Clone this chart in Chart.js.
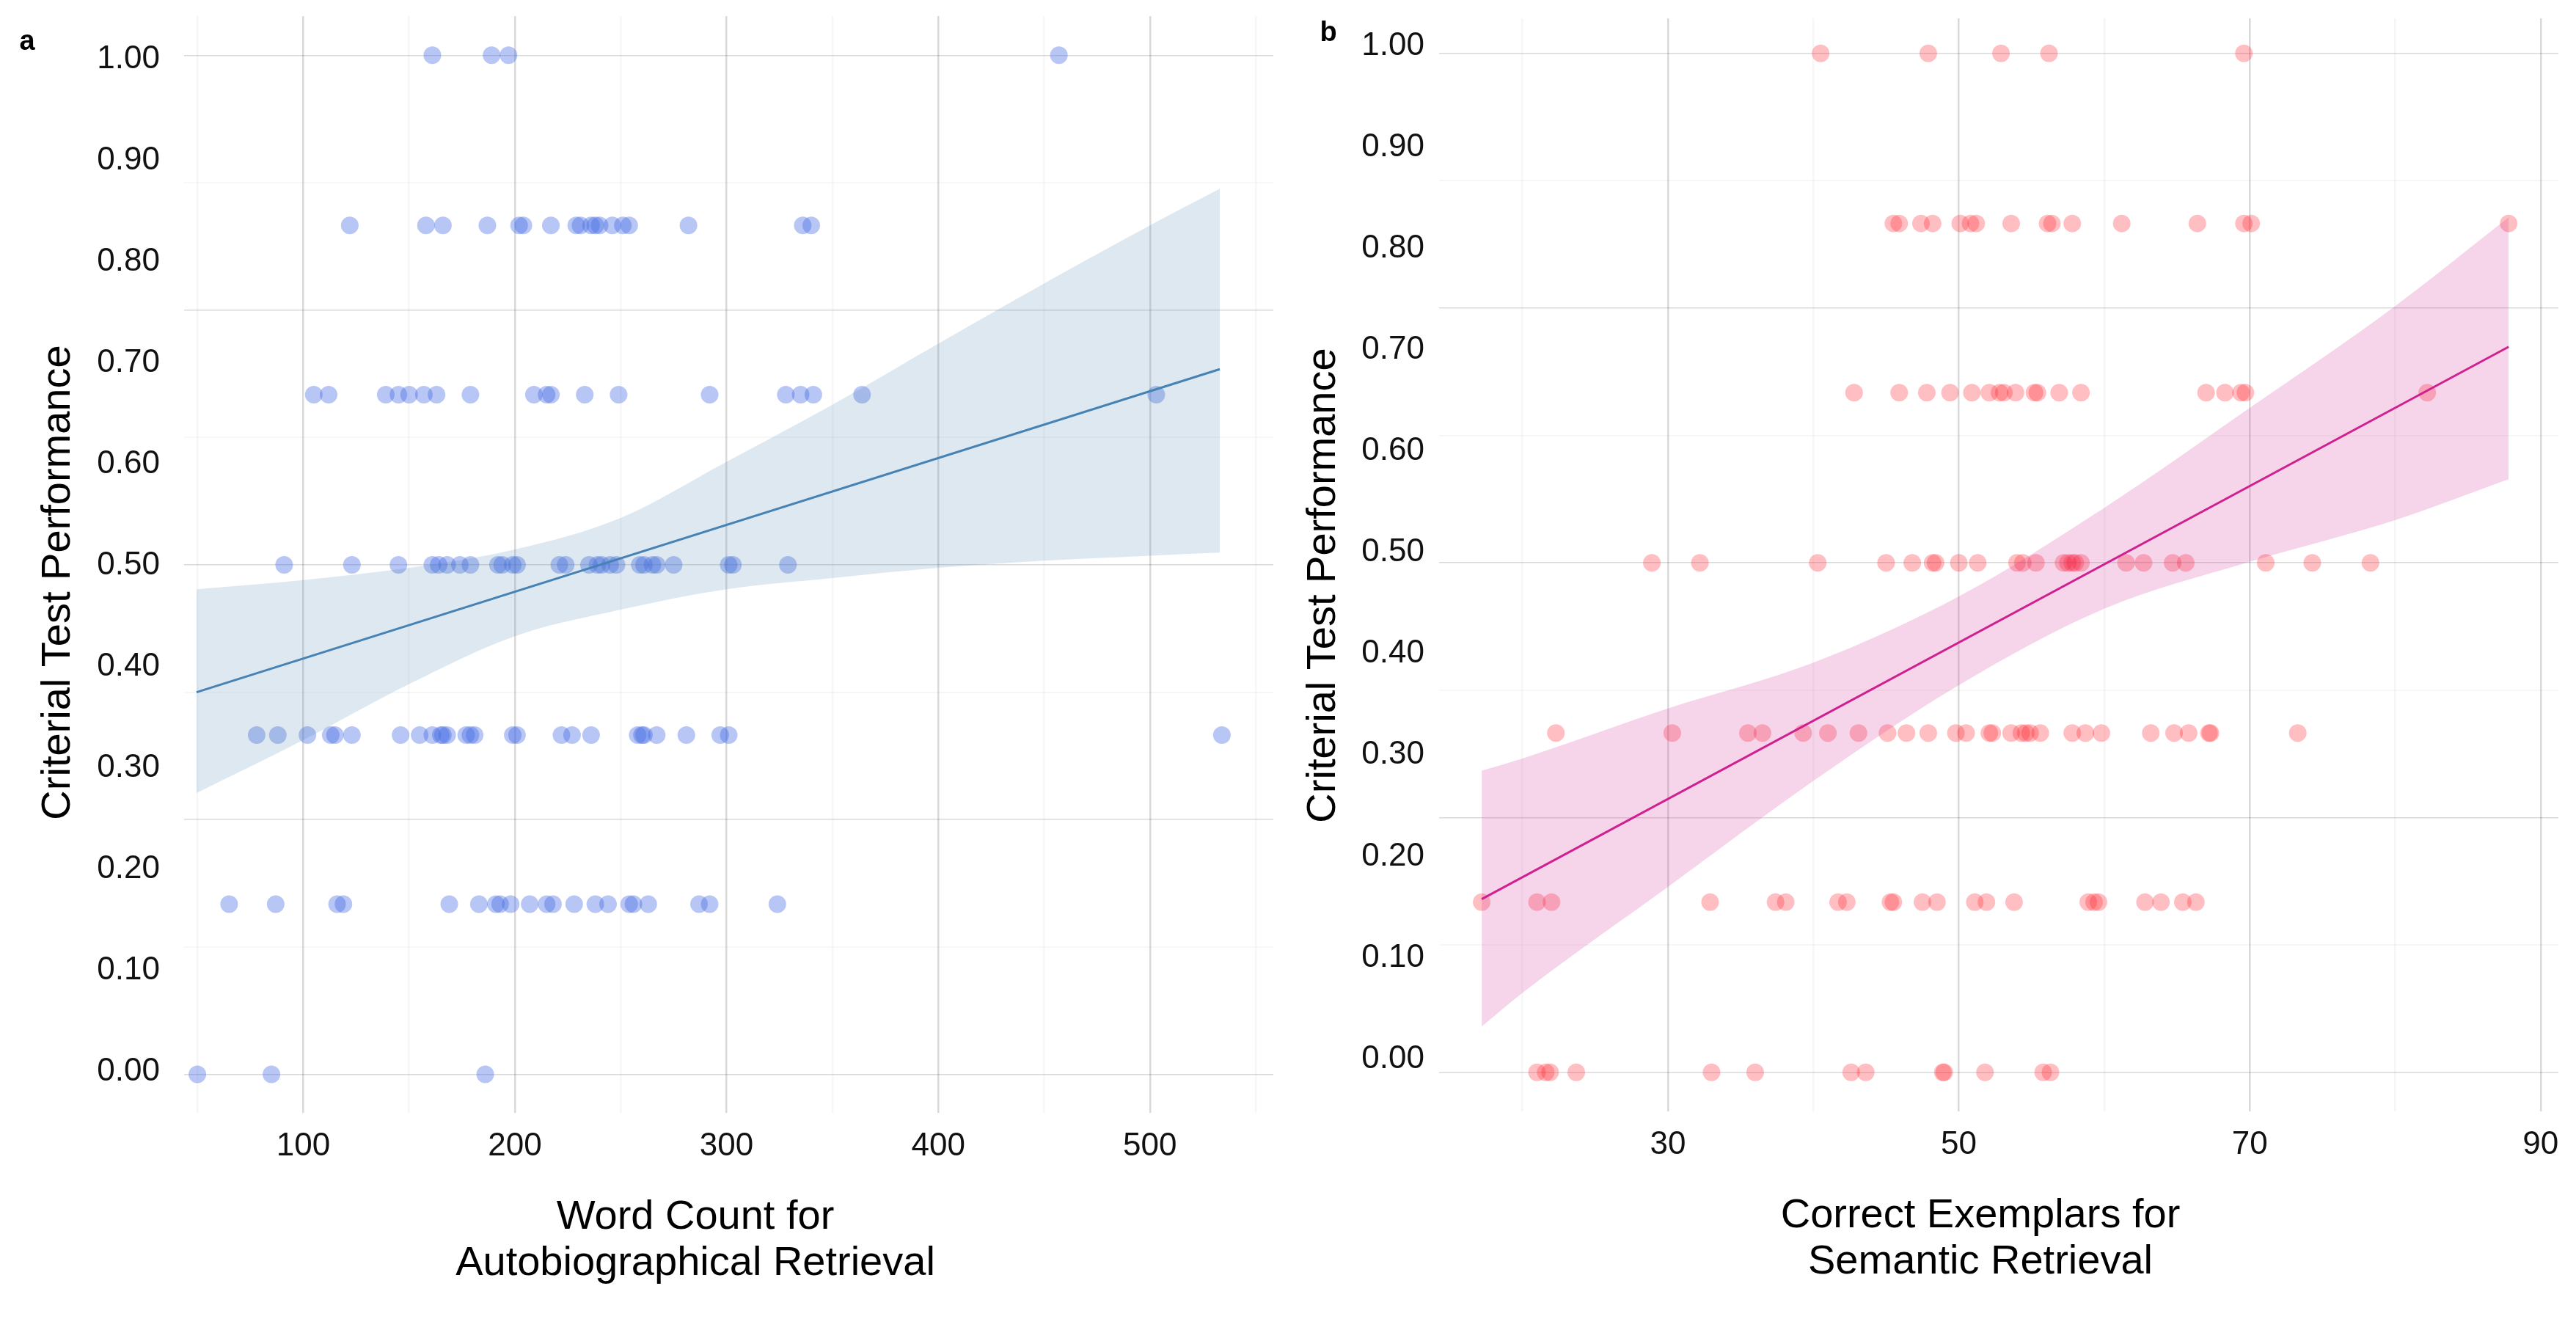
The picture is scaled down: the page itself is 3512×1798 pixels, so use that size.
<!DOCTYPE html>
<html lang="en">
<head>
<meta charset="UTF-8">
<title>Criterial Test Performance</title>
<script src="https://cdn.jsdelivr.net/npm/chart.js"></script>
<style>
  html, body { margin: 0; padding: 0; background: #fff; }
  .panel { position: absolute; top: 0; height: 1798px; }
  #panelA { left: 0; width: 1760px; }
  #panelB { left: 1760px; width: 1752px; }
</style>
</head>
<body>
<div class="panel" id="panelA"><canvas id="chartA"></canvas></div>
<div class="panel" id="panelB"><canvas id="chartB"></canvas></div>
<script>
// criterial test performance levels (one row of points each)
const levels = [1.0, 0.833, 0.667, 0.5, 0.333, 0.167, 0.0];

// panel a: word count for autobiographical retrieval, per level
const wordsAt100 = [161, 189, 197, 457];
const wordsAt083 = [122, 158, 166, 187, 202, 204, 217, 229, 231, 236, 238, 240, 246, 251, 254, 282, 336, 340];
const wordsAt067 = [105, 112, 139, 145, 150, 157, 163, 179, 209, 215, 217, 233, 249, 292, 328, 335, 341, 364, 503];
const wordsAt050 = [91, 123, 145, 161, 164, 168, 174, 179, 192, 194, 199, 201, 221, 224, 235, 239, 241, 245, 248, 259, 261, 265, 267, 275, 301, 303, 329];
const wordsAt033 = [78, 88, 102, 113, 115, 123, 146, 155, 161, 165, 166, 168, 177, 179, 181, 199, 201, 222, 227, 236, 258, 260, 261, 267, 281, 297, 301, 534];
const wordsAt017 = [65, 87, 116, 119, 169, 183, 191, 193, 198, 207, 215, 218, 228, 238, 244, 254, 256, 263, 287, 292, 324];
const wordsAt000 = [50, 85, 186];

// panel a: fitted line and confidence band
const fitAX = [49.6, 533];
const fitAY = [0.375, 0.692];
const bandAX = [49.6, 100, 150, 200, 250, 300, 350, 400, 450, 500, 533];
const bandAUpper = [0.476, 0.485, 0.497, 0.515, 0.546, 0.601, 0.657, 0.717, 0.776, 0.833, 0.869];
const bandALower = [0.276, 0.328, 0.383, 0.430, 0.456, 0.476, 0.487, 0.497, 0.504, 0.509, 0.512];

// panel b: correct exemplars for semantic retrieval, per level
const exemplarsAt100 = [40.5, 47.9, 52.9, 56.2, 69.6];
const exemplarsAt083 = [45.5, 45.9, 47.4, 48.2, 50.1, 50.8, 51.2, 53.6, 56.1, 56.4, 57.8, 61.2, 66.4, 69.6, 70.1, 87.8];
const exemplarsAt067 = [42.8, 45.9, 47.8, 49.4, 50.9, 52.1, 52.8, 53.1, 53.9, 55.2, 55.4, 56.9, 58.4, 67.0, 68.3, 69.4, 69.7, 82.2];
const exemplarsAt050 = [28.9, 32.2, 40.3, 45.0, 46.8, 48.2, 48.4, 50.0, 51.3, 54.0, 54.4, 55.3, 57.2, 57.5, 57.8, 58.0, 58.4, 61.5, 62.7, 64.7, 65.6, 71.1, 74.3, 78.3];
const exemplarsAt033 = [22.3, 30.3, 35.5, 36.5, 39.3, 41.0, 43.1, 45.1, 46.4, 47.9, 49.8, 50.5, 52.1, 52.3, 53.6, 54.3, 54.6, 54.9, 55.6, 57.8, 58.7, 59.8, 63.2, 64.8, 65.8, 67.2, 67.3, 73.3];
const exemplarsAt017 = [17.2, 21.0, 22.0, 32.9, 37.4, 38.1, 41.7, 42.3, 45.3, 45.5, 47.5, 48.5, 51.1, 51.9, 53.8, 58.9, 59.3, 59.6, 62.8, 63.9, 65.4, 66.3];
const exemplarsAt000 = [21.0, 21.6, 21.9, 23.7, 33.0, 36.0, 42.6, 43.6, 48.9, 49.0, 51.8, 55.8, 56.3];

// panel b: fitted line and confidence band
const fitBX = [17.2, 87.8];
const fitBY = [0.170, 0.712];
const bandBX = [17.2, 20, 30, 40, 50, 60, 70, 80, 87.8];
const bandBUpper = [0.296, 0.308, 0.357, 0.402, 0.467, 0.554, 0.652, 0.752, 0.839];
const bandBLower = [0.045, 0.078, 0.182, 0.286, 0.380, 0.455, 0.501, 0.542, 0.582];

// ticks and grid
const yTicks = [0, 0.1, 0.2, 0.3, 0.4, 0.5, 0.6, 0.7, 0.8, 0.9, 1.0];
const yGrid = [0, 0.125, 0.25, 0.375, 0.5, 0.625, 0.75, 0.875, 1.0];
const yGridMajor = [0, 0.25, 0.5, 0.75, 1.0];
const xTicksA = [100, 200, 300, 400, 500];
const xGridA = [50, 100, 150, 200, 250, 300, 350, 400, 450, 500, 550];
const xTicksB = [30, 50, 70, 90];
const xGridB = [20, 30, 40, 50, 60, 70, 80, 90];

const FONT = '"Liberation Sans", Arial, Helvetica, sans-serif';

function toPoints(rows) {
    return rows.flatMap((xs, i) => xs.map(x => ({ x: x, y: levels[i] })));
}
function toXY(xs, ys) {
    return xs.map((x, i) => ({ x: x, y: ys[i] }));
}

// titles and panel letters
const panelText = {
    id: 'panelText',
    afterDraw(chart, args, o) {
        const c = chart.ctx;
        c.save();
        c.fillStyle = '#000';
        c.textAlign = 'center';
        c.textBaseline = 'middle';
        c.font = 'bold 38px ' + FONT;
        c.fillText(o.tag, o.tagX, o.tagY);
        c.font = '56px ' + FONT;
        o.xTitle.forEach((line, i) => c.fillText(line, o.xTitleX, o.xTitleY + i * 63));
        c.translate(o.yTitleX, o.yTitleY);
        c.rotate(-Math.PI / 2);
        c.fillText(o.yTitle, 0, 0);
        c.restore();
    }
};

// keep the plot area where it is: no extra room for edge labels
function noEdgePadding(ax) {
    ax.paddingTop = 0;
    ax.paddingBottom = 0;
    ax.paddingLeft = 0;
    ax.paddingRight = 0;
}

function makeChart(id, p) {
    const isMajorY = v => yGridMajor.some(m => Math.abs(m - v) < 1e-6);
    return new Chart(document.getElementById(id), {
        type: 'scatter',
        data: {
            datasets: [
                {
                    data: toXY(p.fitX, p.fitY),
                    showLine: true,
                    borderColor: p.lineColor,
                    borderWidth: 3,
                    pointRadius: 0,
                    fill: false,
                    yAxisID: 'yd',
                    order: 1
                },
                {
                    data: toXY(p.bandX, p.bandUpper),
                    showLine: true,
                    borderWidth: 0,
                    borderColor: 'rgba(0,0,0,0)',
                    backgroundColor: p.bandColor,
                    pointRadius: 0,
                    cubicInterpolationMode: 'monotone',
                    fill: '+1',
                    yAxisID: 'yd',
                    order: 2
                },
                {
                    data: toXY(p.bandX, p.bandLower),
                    showLine: true,
                    borderWidth: 0,
                    borderColor: 'rgba(0,0,0,0)',
                    pointRadius: 0,
                    cubicInterpolationMode: 'monotone',
                    fill: false,
                    yAxisID: 'yd',
                    order: 2
                },
                {
                    data: toPoints(p.rows),
                    backgroundColor: p.pointColor,
                    borderWidth: 0,
                    pointRadius: 12,
                    pointHoverRadius: 12,
                    yAxisID: 'yd',
                    clip: false,
                    order: 3
                }
            ]
        },
        options: {
            responsive: true,
            maintainAspectRatio: false,
            animation: false,
            events: [],
            layout: { padding: { left: 0, top: p.top, right: p.right, bottom: 0 } },
            plugins: {
                legend: { display: false },
                tooltip: { enabled: false },
                panelText: p.text
            },
            scales: {
                x: {
                    type: 'linear',
                    min: p.xMin,
                    max: p.xMax,
                    afterBuildTicks: ax => { ax.ticks = p.xGrid.map(v => ({ value: v })); },
                    ticks: {
                        callback: v => p.xTicks.includes(v) ? String(v) : '',
                        font: { family: FONT, size: 44 },
                        color: '#111',
                        padding: 19,
                        maxRotation: 0,
                        autoSkip: false
                    },
                    grid: {
                        drawTicks: false,
                        tickLength: 0,
                        color: c => p.xTicks.includes(c.tick.value) ? 'rgba(0,0,0,0.15)' : 'rgba(0,0,0,0.035)',
                        lineWidth: 2.5
                    },
                    border: { display: false },
                    afterFit: ax => { ax.height = p.xAxisHeight; noEdgePadding(ax); }
                },
                y: {
                    type: 'linear',
                    position: 'left',
                    min: p.labelMin,
                    max: p.labelMax,
                    afterBuildTicks: ax => { ax.ticks = yTicks.map(v => ({ value: v })); },
                    ticks: {
                        callback: v => v.toFixed(2),
                        font: { family: FONT, size: 44 },
                        color: '#111',
                        padding: p.labelPad,
                        autoSkip: false
                    },
                    grid: { display: false, drawTicks: false, tickLength: 0 },
                    border: { display: false },
                    afterFit: ax => { ax.width = p.yAxisWidth; noEdgePadding(ax); }
                },
                yd: {
                    type: 'linear',
                    position: 'left',
                    min: p.yMin,
                    max: p.yMax,
                    afterBuildTicks: ax => { ax.ticks = yGrid.map(v => ({ value: v })); },
                    ticks: { display: false },
                    grid: {
                        drawTicks: false,
                        tickLength: 0,
                        color: c => isMajorY(c.tick.value) ? 'rgba(0,0,0,0.15)' : 'rgba(0,0,0,0.03)',
                        lineWidth: c => isMajorY(c.tick.value) ? 1.5 : 2
                    },
                    border: { display: false },
                    afterFit: ax => { ax.width = 0; noEdgePadding(ax); }
                }
            }
        },
        plugins: [panelText]
    });
}

makeChart('chartA', {
    rows: [wordsAt100, wordsAt083, wordsAt067, wordsAt050, wordsAt033, wordsAt017, wordsAt000],
    fitX: fitAX, fitY: fitAY,
    bandX: bandAX, bandUpper: bandAUpper, bandLower: bandALower,
    pointColor: 'rgba(65,105,225,0.38)',
    bandColor: 'rgba(70,130,180,0.18)',
    lineColor: '#4682B4',
    xTicks: xTicksA, xGrid: xGridA,
    xMin: 43.73, xMax: 558.3,
    yMin: -0.0378, yMax: 1.0384,
    labelMin: -0.0406, labelMax: 1.0425,
    labelPad: 33,
    top: 22, right: 24,
    yAxisWidth: 251, xAxisHeight: 281,
    text: {
        tag: 'a', tagX: 37, tagY: 58,
        xTitle: ['Word Count for', 'Autobiographical Retrieval'], xTitleX: 948, xTitleY: 1660,
        yTitle: 'Criterial Test Performance', yTitleX: 80, yTitleY: 794
    }
});

makeChart('chartB', {
    rows: [exemplarsAt100, exemplarsAt083, exemplarsAt067, exemplarsAt050, exemplarsAt033, exemplarsAt017, exemplarsAt000],
    fitX: fitBX, fitY: fitBY,
    bandX: bandBX, bandUpper: bandBUpper, bandLower: bandBLower,
    pointColor: 'rgba(255,20,30,0.27)',
    bandColor: 'rgba(208,32,144,0.19)',
    lineColor: '#D02090',
    xTicks: xTicksB, xGrid: xGridB,
    xMin: 14.27, xMax: 91.22,
    yMin: -0.0383, yMax: 1.0343,
    labelMin: -0.0517, labelMax: 1.0272,
    labelPad: 20,
    top: 25, right: 24,
    yAxisWidth: 202, xAxisHeight: 283,
    text: {
        tag: 'b', tagX: 51, tagY: 46,
        xTitle: ['Correct Exemplars for', 'Semantic Retrieval'], xTitleX: 940, xTitleY: 1658,
        yTitle: 'Criterial Test Performance', yTitleX: 45, yTitleY: 798
    }
});
</script>
</body>
</html>
